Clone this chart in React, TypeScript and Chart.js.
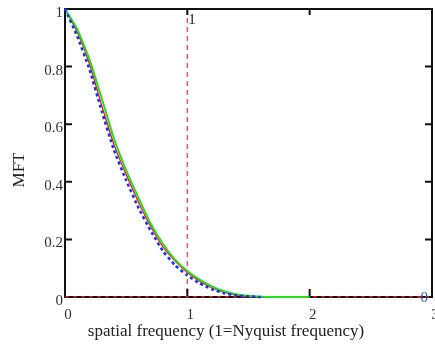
import React, { useEffect, useRef } from "react";
import { Chart, registerables } from "chart.js";

Chart.register(...registerables);

const freqs = [0, 0.1, 0.2, 0.3, 0.4, 0.5, 0.6, 0.7, 0.8, 0.9, 1.0, 1.1, 1.2, 1.3, 1.4, 1.5, 1.6, 1.7, 1.8, 1.9, 2.0];
const redMtf = [1, 0.92, 0.81, 0.665, 0.53, 0.425, 0.33, 0.245, 0.175, 0.125, 0.085, 0.055, 0.032, 0.016, 0.007, 0.003, 0.001, 0];
const greenMtf = [1, 0.93, 0.825, 0.69, 0.55, 0.44, 0.345, 0.255, 0.185, 0.13, 0.09, 0.06, 0.037, 0.02, 0.01, 0.004, 0.001, 0, 0, 0, 0];
const blueMtf = [1, 0.905, 0.79, 0.645, 0.51, 0.405, 0.31, 0.23, 0.16, 0.11, 0.075, 0.047, 0.027, 0.013, 0.005, 0.002, 0];
const xTicks = [0, 1, 2, 3];
const yTicks = [0, 0.2, 0.4, 0.6, 0.8, 1];
const markerX = [1];
const markerY = [0];
const xTitle = "spatial frequency (1=Nyquist frequency)";
const yTitle = "MFT";

const SERIF = "'Liberation Serif', 'DejaVu Serif', serif";

function pts(ys: number[]) {
  return ys.map((y, i) => ({ x: freqs[i], y }));
}

const framePlugin = {
  id: "frame",
  beforeDatasetsDraw(chart: any) {
    const { ctx, chartArea: a, scales } = chart;
    const xs = scales.x;
    const ys = scales.y;
    ctx.save();
    ctx.strokeStyle = "#f05a5a";
    ctx.lineWidth = 1.5;
    ctx.setLineDash([5, 4]);
    markerX.forEach((m) => {
      const px = xs.getPixelForValue(m);
      ctx.beginPath();
      ctx.moveTo(px, a.top);
      ctx.lineTo(px, a.bottom);
      ctx.stroke();
    });
    ctx.setLineDash([]);
    ctx.strokeStyle = "#111";
    ctx.lineWidth = 2;
    ctx.strokeRect(a.left, a.top, a.right - a.left, a.bottom - a.top);
    yTicks.forEach((v) => {
      if (v === 0 || v === 1) return;
      const py = ys.getPixelForValue(v);
      ctx.beginPath();
      ctx.moveTo(a.left, py);
      ctx.lineTo(a.left + 7, py);
      ctx.moveTo(a.right, py);
      ctx.lineTo(a.right - 7, py);
      ctx.stroke();
    });
    xTicks.forEach((v) => {
      if (v === 0 || v === 3) return;
      const px = xs.getPixelForValue(v);
      ctx.beginPath();
      ctx.moveTo(px, a.bottom);
      ctx.lineTo(px, a.bottom - 8);
      ctx.moveTo(px, a.top);
      ctx.lineTo(px, a.top + 6);
      ctx.stroke();
    });
    ctx.strokeStyle = "#e02020";
    ctx.lineWidth = 1.5;
    ctx.setLineDash([4, 4]);
    markerY.forEach((m) => {
      const py = ys.getPixelForValue(m);
      ctx.beginPath();
      ctx.moveTo(a.left, py);
      ctx.lineTo(a.right, py);
      ctx.stroke();
    });
    ctx.setLineDash([]);
    ctx.restore();
  },
  afterDatasetsDraw(chart: any) {
    const { ctx, chartArea: a, scales } = chart;
    const xs = scales.x;
    const ys = scales.y;
    ctx.save();
    ctx.font = `15px ${SERIF}`;
    ctx.fillStyle = "#223";
    ctx.textAlign = "left";
    ctx.textBaseline = "top";
    markerX.forEach((m) => {
      ctx.fillText(String(m), xs.getPixelForValue(m) + 1, a.top + 4);
    });
    ctx.fillStyle = "#3050a0";
    ctx.textAlign = "right";
    ctx.textBaseline = "middle";
    markerY.forEach((m) => {
      ctx.fillText(String(m), a.right - 4, ys.getPixelForValue(m) + 1);
    });
    ctx.fillStyle = "#222";
    ctx.textAlign = "center";
    ctx.textBaseline = "middle";
    ctx.font = `17px ${SERIF}`;
    ctx.fillText(xTitle, 226, 332);
    ctx.translate(20, 170);
    ctx.rotate(-Math.PI / 2);
    ctx.font = `17px ${SERIF}`;
    ctx.fillText(yTitle, 0, 0);
    ctx.restore();
  },
};

export default function App() {
  const ref = useRef<HTMLCanvasElement | null>(null);
  useEffect(() => {
    document.body.style.margin = "0";
    const chart = new Chart(ref.current as HTMLCanvasElement, {
      type: "line",
      data: {
        datasets: [
          {
            data: pts(blueMtf),
            borderColor: "#1030ff",
            borderWidth: 2.5,
            borderDash: [3, 3],
            pointRadius: 0,
            tension: 0.15,
            clip: 4,
          },
          {
            data: pts(greenMtf),
            borderColor: "#20e020",
            borderWidth: 2,
            pointRadius: 0,
            tension: 0.15,
            clip: 4,
          },
          {
            data: pts(redMtf),
            borderColor: "#ff1010",
            borderWidth: 1.3,
            pointRadius: 0,
            tension: 0.15,
            clip: 4,
          },
        ] as any,
      },
      options: {
        animation: false,
        responsive: true,
        maintainAspectRatio: false,
        layout: { padding: { top: 9, right: 3, left: 0, bottom: 0 } },
        plugins: { legend: { display: false }, tooltip: { enabled: false } },
        scales: {
          x: {
            type: "linear",
            min: 0,
            max: 3,
            afterBuildTicks: (s: any) => {
              s.ticks = xTicks.map((v) => ({ value: v }));
            },
            afterFit: (s: any) => {
              s.height = 50;
              s.paddingLeft = 0;
              s.paddingRight = 0;
            },
            grid: { display: false, drawTicks: false },
            border: { display: false },
            ticks: {
              color: "#333",
              font: { family: SERIF, size: 15 },
              padding: 9,
              labelOffset: 3,
              maxRotation: 0,
              autoSkip: false,
              callback: (v: any) => String(Number(v)),
            },
            title: { display: false, text: xTitle },
          },
          y: {
            type: "linear",
            min: 0,
            max: 1,
            afterBuildTicks: (s: any) => {
              s.ticks = yTicks.map((v) => ({ value: v }));
            },
            afterFit: (s: any) => {
              s.width = 65;
              s.paddingTop = 0;
              s.paddingBottom = 0;
            },
            grid: { display: false, drawTicks: false },
            border: { display: false },
            ticks: {
              color: "#333",
              font: { family: SERIF, size: 15 },
              padding: 2,
              labelOffset: 4,
              autoSkip: false,
              callback: (v: any) => String(Number(v)),
            },
            title: { display: false, text: yTitle },
          },
        },
      },
      plugins: [framePlugin],
    });
    return () => chart.destroy();
  }, []);
  return (
    <div style={{ position: "absolute", left: 0, top: 0, width: 435, height: 347 }}>
      <canvas ref={ref} />
    </div>
  );
}
